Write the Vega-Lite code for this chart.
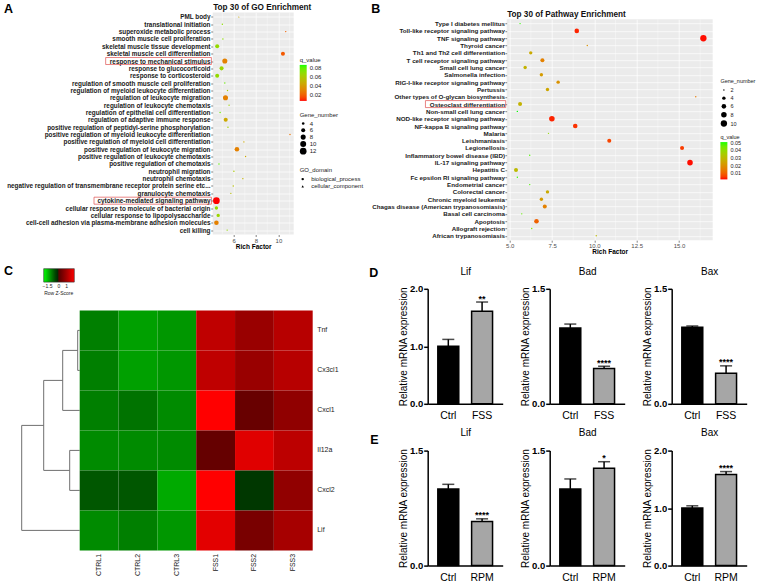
{
  "$schema": "https://vega.github.io/schema/vega-lite/v6.json",
  "background": "white",
  "autosize": {"type": "pad"},
  "padding": {"left": 2.7, "top": 1.5, "right": 0, "bottom": 0},
  "config": {
    "font": "Liberation Sans",
    "view": {"stroke": null},
    "axis": {"labelFont": "Liberation Sans", "titleFont": "Liberation Sans"},
    "axisQuantitative": {"labelOverlap": false},
    "legend": {"labelFont": "Liberation Sans", "titleFont": "Liberation Sans", "labelColor": "#1A1A1A", "titleColor": "#1A1A1A"},
    "title": {"font": "Liberation Sans", "color": "black"}
  },
  "bounds": "full",
  "spacing": 5,
  "resolve": {"scale": {"color": "independent", "size": "independent", "shape": "independent", "fill": "independent"}, "legend": {"color": "independent", "size": "independent", "shape": "independent", "fill": "independent"}},
  "hconcat": [
    {
      "bounds": "full",
      "spacing": 14.9,
      "resolve": {"scale": {"color": "independent", "size": "independent", "shape": "independent", "fill": "independent"}, "legend": {"color": "independent", "size": "independent", "shape": "independent", "fill": "independent"}},
      "vconcat": [
        {
          "bounds": "flush",
          "spacing": 0,
          "resolve": {"scale": {"color": "independent", "size": "independent", "shape": "independent"}, "legend": {"color": "independent", "size": "independent", "shape": "independent"}},
          "hconcat": [
            {"width": 193, "height": 1, "data": {"values": []}, "mark": "point",
             "encoding": {"x": {"field": "v", "type": "quantitative", "scale": {"domain": [0, 1]},
               "axis": {"title": "A", "titleX": -16.3, "titleY": -5.125, "titleAngle": 0, "titleAlign": "left", "titleBaseline": "middle", "titleFontSize": 12.5, "titleFontWeight": "bold", "titleColor": "black", "labels": false, "ticks": false, "domain": false, "grid": false}}}},
            {
              "width": 81,
              "height": 222,
              "view": {"fill": "#EBEBEB", "stroke": null},
              "data": {"values": [
                {"term": "PML body", "rf": 6.47, "q": 0.045, "n": 3, "dom": "cellular_component"},
                {"term": "translational initiation", "rf": 5.0, "q": 0.07, "n": 3, "dom": "biological_process"},
                {"term": "superoxide metabolic process", "rf": 10.65, "q": 0.02, "n": 3, "dom": "biological_process"},
                {"term": "smooth muscle cell proliferation", "rf": 5.05, "q": 0.07, "n": 3, "dom": "biological_process"},
                {"term": "skeletal muscle tissue development", "rf": 4.54, "q": 0.068, "n": 6, "dom": "biological_process"},
                {"term": "skeletal muscle cell differentiation", "rf": 10.4, "q": 0.018, "n": 6, "dom": "biological_process"},
                {"term": "response to mechanical stimulus", "rf": 5.22, "q": 0.03, "n": 8, "dom": "biological_process"},
                {"term": "response to glucocorticoid", "rf": 4.93, "q": 0.065, "n": 6, "dom": "biological_process"},
                {"term": "response to corticosteroid", "rf": 4.54, "q": 0.068, "n": 6, "dom": "biological_process"},
                {"term": "regulation of smooth muscle cell proliferation", "rf": 5.22, "q": 0.078, "n": 3, "dom": "biological_process"},
                {"term": "regulation of myeloid leukocyte differentiation", "rf": 5.46, "q": 0.062, "n": 3, "dom": "biological_process"},
                {"term": "regulation of leukocyte migration", "rf": 5.28, "q": 0.03, "n": 8, "dom": "biological_process"},
                {"term": "regulation of leukocyte chemotaxis", "rf": 5.6, "q": 0.065, "n": 3, "dom": "biological_process"},
                {"term": "regulation of epithelial cell differentiation", "rf": 4.8, "q": 0.078, "n": 3, "dom": "biological_process"},
                {"term": "regulation of adaptive immune response", "rf": 5.3, "q": 0.045, "n": 6, "dom": "biological_process"},
                {"term": "positive regulation of peptidyl-serine phosphorylation", "rf": 5.5, "q": 0.065, "n": 3, "dom": "biological_process"},
                {"term": "positive regulation of myeloid leukocyte differentiation", "rf": 11.03, "q": 0.025, "n": 3, "dom": "biological_process"},
                {"term": "positive regulation of myeloid cell differentiation", "rf": 6.92, "q": 0.045, "n": 3, "dom": "biological_process"},
                {"term": "positive regulation of leukocyte migration", "rf": 6.3, "q": 0.03, "n": 7, "dom": "biological_process"},
                {"term": "positive regulation of leukocyte chemotaxis", "rf": 7.07, "q": 0.045, "n": 3, "dom": "biological_process"},
                {"term": "positive regulation of chemotaxis", "rf": 4.7, "q": 0.08, "n": 3, "dom": "biological_process"},
                {"term": "neutrophil migration", "rf": 6.03, "q": 0.06, "n": 3, "dom": "biological_process"},
                {"term": "neutrophil chemotaxis", "rf": 6.83, "q": 0.05, "n": 3, "dom": "biological_process"},
                {"term": "negative regulation of transmembrane receptor protein serine etc...", "rf": 5.97, "q": 0.055, "n": 3, "dom": "biological_process"},
                {"term": "granulocyte chemotaxis", "rf": 5.76, "q": 0.055, "n": 3, "dom": "biological_process"},
                {"term": "cytokine-mediated signaling pathway", "rf": 4.47, "q": 0.0067, "n": 12, "dom": "biological_process"},
                {"term": "cellular response to molecule of bacterial origin", "rf": 4.47, "q": 0.068, "n": 5, "dom": "biological_process"},
                {"term": "cellular response to lipopolysaccharide", "rf": 4.63, "q": 0.066, "n": 5, "dom": "biological_process"},
                {"term": "cell-cell adhesion via plasma-membrane adhesion molecules", "rf": 4.47, "q": 0.03, "n": 7, "dom": "biological_process"},
                {"term": "cell killing", "rf": 5.43, "q": 0.068, "n": 3, "dom": "biological_process"}
              ]},
              "layer": [
                {"data": {"values": [{}]}, "mark": {"type": "rule", "color": "white", "strokeWidth": 0.35}, "encoding": {"x": {"datum": 5, "type": "quantitative"}}},
                {"data": {"values": [{}]}, "mark": {"type": "rule", "color": "white", "strokeWidth": 0.35}, "encoding": {"x": {"datum": 7, "type": "quantitative"}}},
                {"data": {"values": [{}]}, "mark": {"type": "rule", "color": "white", "strokeWidth": 0.35}, "encoding": {"x": {"datum": 9, "type": "quantitative"}}},
                {"data": {"values": [{}]}, "mark": {"type": "rule", "color": "white", "strokeWidth": 0.35}, "encoding": {"x": {"datum": 11, "type": "quantitative"}}},
                {
                  "mark": {"type": "point", "filled": true, "opacity": 1, "strokeWidth": 0},
                  "encoding": {
                    "y": {"field": "term", "type": "nominal", "sort": null, "title": "Top 30 of GO Enrichment", "scale": {"type": "point", "padding": 0.6},
                      "axis": {"title": "Top 30 of GO Enrichment", "titleX": 0, "titleY": -5.1, "titleAngle": 0, "titleAlign": "left", "titleBaseline": "middle", "titleFontSize": 8.2, "titleFontWeight": "bold", "titleColor": "#111111",
                        "labelFontSize": 6.4, "labelFontWeight": "bold", "labelColor": "#1A1A1A", "labelLimit": 400, "tickSize": 2, "tickColor": "#333333", "tickWidth": 0.6, "labelPadding": 0.7, "domain": false, "grid": true, "gridColor": "white", "gridWidth": 0.7}},
                    "x": {"field": "rf", "type": "quantitative", "title": "Rich Factor", "scale": {"domain": [4.14, 11.36], "nice": false, "zero": false},
                      "axis": {"title": "Rich Factor", "values": [6, 8, 10], "format": "d", "labelFontSize": 6, "labelColor": "#4D4D4D", "labelFlush": false, "tickSize": 2, "tickColor": "#333333", "tickWidth": 0.6, "labelPadding": 0.5, "domain": false, "grid": true, "gridColor": "white", "gridWidth": 0.7, "titleFontSize": 6.5, "titleFontWeight": "bold", "titleColor": "black", "titlePadding": 0}},
                    "color": {"field": "q", "type": "quantitative", "scale": {"domain": [0.0067, 0.0867], "range": ["#FF0000", "#00FF00"], "interpolate": "lab"},
                      "legend": {"title": "q_value", "orient": "none", "legendX": 87, "legendY": 44.4, "direction": "vertical", "gradientLength": 36, "gradientThickness": 7, "values": [0.02, 0.04, 0.06, 0.08], "format": ".2f", "titleFontSize": 6, "titleFontWeight": "normal", "titlePadding": 2, "labelFontSize": 6, "labelOffset": 3, "gradientStrokeWidth": 0}},
                    "size": {"field": "n", "type": "quantitative", "scale": {"domain": [3, 12], "range": [2, 45], "zero": false},
                      "legend": {"title": "Gene_number", "orient": "none", "legendX": 87, "legendY": 99.4, "values": [4, 6, 8, 10, 12], "symbolType": "circle", "symbolFillColor": "black", "symbolStrokeWidth": 0, "symbolOpacity": 1, "titleFontSize": 6, "titleFontWeight": "normal", "titlePadding": 2.6, "labelFontSize": 6, "labelOffset": 3, "rowPadding": 0.8}},
                    "shape": {"field": "dom", "type": "nominal", "scale": {"domain": ["biological_process", "cellular_component"], "range": ["circle", "triangle-up"]},
                      "legend": {"title": "GO_domain", "orient": "none", "legendX": 87, "legendY": 154.4, "symbolFillColor": "black", "symbolStrokeWidth": 0, "symbolSize": 6, "titleFontSize": 6, "titleFontWeight": "normal", "titlePadding": 3.2, "labelFontSize": 6, "labelOffset": 5.5, "rowPadding": 1.3}}
                  }
                },
                {
                  "mark": {"type": "bar", "orient": "horizontal", "size": 7, "fillOpacity": 0, "stroke": "#E0504F", "strokeWidth": 0.7},
                  "encoding": {
                    "y": {"field": "term", "type": "nominal", "sort": null, "title": "Top 30 of GO Enrichment", "scale": {"type": "point", "padding": 0.6}},
                    "x": {"datum": -5.4, "type": "quantitative", "title": "Rich Factor"},
                    "x2": {"datum": 4.024},
                    "strokeOpacity": {"condition": {"test": "datum.term === 'response to mechanical stimulus'", "value": 1}, "value": 0}
                  }
                },
                {
                  "mark": {"type": "bar", "orient": "horizontal", "size": 7, "fillOpacity": 0, "stroke": "#E0504F", "strokeWidth": 0.7},
                  "encoding": {
                    "y": {"field": "term", "type": "nominal", "sort": null, "title": "Top 30 of GO Enrichment", "scale": {"type": "point", "padding": 0.6}},
                    "x": {"datum": -6.44, "type": "quantitative", "title": "Rich Factor"},
                    "x2": {"datum": 4.024},
                    "strokeOpacity": {"condition": {"test": "datum.term === 'cytokine-mediated signaling pathway'", "value": 1}, "value": 0}
                  }
                }
              ]
            }
          ]
        },
        {
          "bounds": "flush",
          "spacing": 0,
          "resolve": {"scale": {"color": "independent"}, "legend": {"color": "independent"}},
          "hconcat": [
            {
              "width": 60,
              "height": 240,
              "data": {"values": [
                {"ha": 0, "hb": 2, "ra": 0.5, "rb": 0.5},
                {"ha": 0, "hb": 2, "ra": 1.5, "rb": 1.5},
                {"ha": 2, "hb": 2, "ra": 0.5, "rb": 1.5},
                {"ha": 2, "hb": 17, "ra": 1.0, "rb": 1.0},
                {"ha": 0, "hb": 17, "ra": 2.5, "rb": 2.5},
                {"ha": 17, "hb": 17, "ra": 1.0, "rb": 2.5},
                {"ha": 0, "hb": 10, "ra": 3.5, "rb": 3.5},
                {"ha": 0, "hb": 10, "ra": 4.5, "rb": 4.5},
                {"ha": 10, "hb": 10, "ra": 3.5, "rb": 4.5},
                {"ha": 17, "hb": 36, "ra": 1.75, "rb": 1.75},
                {"ha": 10, "hb": 36, "ra": 4.0, "rb": 4.0},
                {"ha": 36, "hb": 36, "ra": 1.75, "rb": 4.0},
                {"ha": 36, "hb": 58, "ra": 2.875, "rb": 2.875},
                {"ha": 0, "hb": 58, "ra": 5.5, "rb": 5.5},
                {"ha": 58, "hb": 58, "ra": 2.875, "rb": 5.5}
              ]},
              "mark": {"type": "rule", "color": "#6E6E6E", "strokeWidth": 1},
              "encoding": {
                "x": {"field": "ha", "type": "quantitative", "scale": {"domain": [0, 60], "reverse": true, "nice": false, "zero": false},
                  "axis": {"title": "C", "labels": false, "ticks": false, "domain": false, "grid": false, "titleX": -16.3, "titleY": -279.5, "titleAngle": 0, "titleAlign": "left", "titleBaseline": "middle", "titleFontSize": 12.5, "titleFontWeight": "bold", "titleColor": "black"}},
                "x2": {"field": "hb"},
                "y": {"field": "ra", "type": "quantitative", "scale": {"domain": [0, 6], "reverse": true, "nice": false, "zero": false}, "axis": null},
                "y2": {"field": "rb"}
              }
            },
            {
              "width": 233,
              "height": 240,
              "data": {"values": [
                {"gene": "Tnf", "sample": "CTRL1", "z": -0.98}, {"gene": "Tnf", "sample": "CTRL2", "z": -1.25}, {"gene": "Tnf", "sample": "CTRL3", "z": -1.18},
                {"gene": "Tnf", "sample": "FSS1", "z": 1.29}, {"gene": "Tnf", "sample": "FSS2", "z": 0.84}, {"gene": "Tnf", "sample": "FSS3", "z": 1.2},
                {"gene": "Cx3cl1", "sample": "CTRL1", "z": -0.98}, {"gene": "Cx3cl1", "sample": "CTRL2", "z": -1.25}, {"gene": "Cx3cl1", "sample": "CTRL3", "z": -1.18},
                {"gene": "Cx3cl1", "sample": "FSS1", "z": 1.29}, {"gene": "Cx3cl1", "sample": "FSS2", "z": 0.84}, {"gene": "Cx3cl1", "sample": "FSS3", "z": 1.2},
                {"gene": "Cxcl1", "sample": "CTRL1", "z": -0.98}, {"gene": "Cxcl1", "sample": "CTRL2", "z": -0.88}, {"gene": "Cxcl1", "sample": "CTRL3", "z": -1.08},
                {"gene": "Cxcl1", "sample": "FSS1", "z": 2.0}, {"gene": "Cxcl1", "sample": "FSS2", "z": 0.24}, {"gene": "Cxcl1", "sample": "FSS3", "z": 0.74},
                {"gene": "Il12a", "sample": "CTRL1", "z": -1.08}, {"gene": "Il12a", "sample": "CTRL2", "z": -1.08}, {"gene": "Il12a", "sample": "CTRL3", "z": -1.08},
                {"gene": "Il12a", "sample": "FSS1", "z": 0.19}, {"gene": "Il12a", "sample": "FSS2", "z": 1.66}, {"gene": "Il12a", "sample": "FSS3", "z": 1.25},
                {"gene": "Cxcl2", "sample": "CTRL1", "z": -0.64}, {"gene": "Cxcl2", "sample": "CTRL2", "z": -0.64}, {"gene": "Cxcl2", "sample": "CTRL3", "z": -1.33},
                {"gene": "Cxcl2", "sample": "FSS1", "z": 2.0}, {"gene": "Cxcl2", "sample": "FSS2", "z": -0.33}, {"gene": "Cxcl2", "sample": "FSS3", "z": 0.75},
                {"gene": "Lif", "sample": "CTRL1", "z": -1.08}, {"gene": "Lif", "sample": "CTRL2", "z": -0.98}, {"gene": "Lif", "sample": "CTRL3", "z": -1.18},
                {"gene": "Lif", "sample": "FSS1", "z": 1.69}, {"gene": "Lif", "sample": "FSS2", "z": 0.45}, {"gene": "Lif", "sample": "FSS3", "z": 1.0}
              ]},
              "mark": {"type": "rect"},
              "encoding": {
                "x": {"field": "sample", "type": "nominal", "sort": ["CTRL1", "CTRL2", "CTRL3", "FSS1", "FSS2", "FSS3"], "scale": {"paddingInner": 0, "paddingOuter": 0},
                  "axis": {"title": null, "labelAngle": 270, "labelFontSize": 7, "labelColor": "#222222", "ticks": false, "domain": false, "grid": false, "labelPadding": 3}},
                "y": {"field": "gene", "type": "nominal", "sort": ["Tnf", "Cx3cl1", "Cxcl1", "Il12a", "Cxcl2", "Lif"], "scale": {"paddingInner": 0, "paddingOuter": 0},
                  "axis": {"orient": "right", "title": null, "labelFontSize": 7, "labelColor": "#222222", "ticks": false, "domain": false, "grid": false, "labelPadding": 4}},
                "color": {"field": "z", "type": "quantitative", "scale": {"domain": [-2, 0, 2], "range": ["#00FF00", "#000000", "#FF0000"]},
                  "legend": {"title": "Row Z-Score", "orient": "none", "legendX": -36, "legendY": -41.7, "direction": "horizontal", "gradientLength": 30.6, "gradientThickness": 13.4, "values": [-1.5, 0, 1], "format": ".1~f", "labelFontSize": 5, "titleFontSize": 5, "titleFontWeight": "normal", "titleOrient": "bottom", "titleAnchor": "middle", "labelOffset": 2, "titlePadding": 2, "gradientStrokeColor": "#333333", "gradientStrokeWidth": 0.6}}
              }
            }
          ]
        }
      ]
    },
    {
      "bounds": "full",
      "spacing": 10.3,
      "resolve": {"scale": {"color": "independent", "size": "independent", "fill": "independent"}, "legend": {"color": "independent", "size": "independent", "fill": "independent"}},
      "vconcat": [
        {
          "bounds": "flush",
          "spacing": 5.7,
          "resolve": {"scale": {"color": "independent", "size": "independent"}, "legend": {"color": "independent", "size": "independent"}},
          "vconcat": [
            {"width": 1, "height": 1, "data": {"values": []}, "mark": "point",
             "encoding": {"x": {"field": "v", "type": "quantitative", "scale": {"domain": [0, 1]},
               "axis": {"title": "B", "titleX": 2, "titleY": -5.125, "titleAngle": 0, "titleAlign": "left", "titleBaseline": "middle", "titleFontSize": 12.5, "titleFontWeight": "bold", "titleColor": "black", "labels": false, "ticks": false, "domain": false, "grid": false}}}},
            {
              "bounds": "flush",
              "spacing": 0,
              "resolve": {"scale": {"color": "independent", "size": "independent"}, "legend": {"color": "independent", "size": "independent"}},
              "hconcat": [
                {"width": 138, "height": 1, "data": {"values": []}, "mark": "point"},
                {
                  "width": 206,
                  "height": 221,
                  "view": {"fill": "#EBEBEB", "stroke": null},
                  "data": {"values": [
                    {"term": "Type I diabetes mellitus", "rf": 5.61, "q": 0.05, "n": 2},
                    {"term": "Toll-like receptor signaling pathway", "rf": 8.96, "q": 0.003, "n": 6},
                    {"term": "TNF signaling pathway", "rf": 16.44, "q": 0.002, "n": 10},
                    {"term": "Thyroid cancer", "rf": 9.58, "q": 0.02, "n": 2},
                    {"term": "Th1 and Th2 cell differentiation", "rf": 6.24, "q": 0.026, "n": 4},
                    {"term": "T cell receptor signaling pathway", "rf": 6.93, "q": 0.016, "n": 5},
                    {"term": "Small cell lung cancer", "rf": 5.91, "q": 0.028, "n": 4},
                    {"term": "Salmonella infection", "rf": 6.87, "q": 0.022, "n": 4},
                    {"term": "RIG-I-like receptor signaling pathway", "rf": 7.86, "q": 0.02, "n": 4},
                    {"term": "Pertussis", "rf": 7.23, "q": 0.025, "n": 4},
                    {"term": "Other types of O-glycan biosynthesis", "rf": 15.99, "q": 0.015, "n": 2},
                    {"term": "Osteoclast differentiation", "rf": 5.61, "q": 0.028, "n": 5},
                    {"term": "Non-small cell lung cancer", "rf": 5.45, "q": 0.051, "n": 2},
                    {"term": "NOD-like receptor signaling pathway", "rf": 7.49, "q": 0.003, "n": 8},
                    {"term": "NF-kappa B signaling pathway", "rf": 8.87, "q": 0.004, "n": 6},
                    {"term": "Malaria", "rf": 7.29, "q": 0.04, "n": 2},
                    {"term": "Leishmaniasis", "rf": 10.88, "q": 0.006, "n": 5},
                    {"term": "Legionellosis", "rf": 15.18, "q": 0.005, "n": 5},
                    {"term": "Inflammatory bowel disease (IBD)", "rf": 6.18, "q": 0.048, "n": 2},
                    {"term": "IL-17 signaling pathway", "rf": 15.65, "q": 0.002, "n": 8},
                    {"term": "Hepatitis C", "rf": 5.37, "q": 0.03, "n": 5},
                    {"term": "Fc epsilon RI signaling pathway", "rf": 5.45, "q": 0.05, "n": 2},
                    {"term": "Endometrial cancer", "rf": 6.18, "q": 0.048, "n": 2},
                    {"term": "Colorectal cancer", "rf": 7.23, "q": 0.026, "n": 4},
                    {"term": "Chronic myeloid leukemia", "rf": 6.87, "q": 0.022, "n": 4},
                    {"term": "Chagas disease (American trypanosomiasis)", "rf": 7.07, "q": 0.016, "n": 5},
                    {"term": "Basal cell carcinoma", "rf": 5.71, "q": 0.046, "n": 2},
                    {"term": "Apoptosis", "rf": 6.58, "q": 0.01, "n": 6},
                    {"term": "Allograft rejection", "rf": 6.3, "q": 0.043, "n": 2},
                    {"term": "African trypanosomiasis", "rf": 10.11, "q": 0.03, "n": 2}
                  ]},
                  "layer": [
                    {"data": {"values": [{}]}, "mark": {"type": "rule", "color": "white", "strokeWidth": 0.35}, "encoding": {"x": {"datum": 6.25, "type": "quantitative"}}},
                    {"data": {"values": [{}]}, "mark": {"type": "rule", "color": "white", "strokeWidth": 0.35}, "encoding": {"x": {"datum": 8.75, "type": "quantitative"}}},
                    {"data": {"values": [{}]}, "mark": {"type": "rule", "color": "white", "strokeWidth": 0.35}, "encoding": {"x": {"datum": 11.25, "type": "quantitative"}}},
                    {"data": {"values": [{}]}, "mark": {"type": "rule", "color": "white", "strokeWidth": 0.35}, "encoding": {"x": {"datum": 13.75, "type": "quantitative"}}},
                    {"data": {"values": [{}]}, "mark": {"type": "rule", "color": "white", "strokeWidth": 0.35}, "encoding": {"x": {"datum": 16.25, "type": "quantitative"}}},
                    {
                      "mark": {"type": "point", "filled": true, "opacity": 1, "strokeWidth": 0},
                      "encoding": {
                        "y": {"field": "term", "type": "nominal", "sort": null, "title": "Top 30 of Pathway Enrichment", "scale": {"type": "point", "padding": 0.6},
                          "axis": {"title": "Top 30 of Pathway Enrichment", "titleX": 0, "titleY": -5.1, "titleAngle": 0, "titleAlign": "left", "titleBaseline": "middle", "titleFontSize": 8.2, "titleFontWeight": "bold", "titleColor": "#111111",
                            "labelFontSize": 6.25, "labelFontWeight": "bold", "labelColor": "#1A1A1A", "labelLimit": 400, "tickSize": 1.8, "tickColor": "#333333", "tickWidth": 0.6, "labelPadding": 0.4, "domain": false, "grid": true, "gridColor": "white", "gridWidth": 0.7}},
                        "x": {"field": "rf", "type": "quantitative", "title": "Rich Factor", "scale": {"domain": [4.82, 16.99], "nice": false, "zero": false},
                          "axis": {"title": "Rich Factor", "values": [5, 7.5, 10, 12.5, 15], "format": ".1f", "labelFontSize": 6, "labelColor": "#4D4D4D", "labelFlush": false, "tickSize": 2, "tickColor": "#333333", "tickWidth": 0.6, "labelPadding": 0.5, "domain": false, "grid": true, "gridColor": "white", "gridWidth": 0.7, "titleFontSize": 6.5, "titleFontWeight": "bold", "titleColor": "black", "titlePadding": 0}},
                        "color": {"field": "q", "type": "quantitative", "scale": {"domain": [0.0017, 0.051], "range": ["#FF0000", "#00FF00"], "interpolate": "lab"},
                          "legend": {"title": "q_value", "orient": "none", "legendX": 213.7, "legendY": 115.7, "direction": "vertical", "gradientLength": 37.3, "gradientThickness": 7, "values": [0.01, 0.02, 0.03, 0.04, 0.05], "format": ".2f", "titleFontSize": 5.5, "titleFontWeight": "normal", "titlePadding": 1.7, "labelFontSize": 5.5, "labelOffset": 3, "gradientStrokeWidth": 0}},
                        "size": {"field": "n", "type": "quantitative", "scale": {"domain": [2, 10], "range": [2, 40], "zero": false},
                          "legend": {"title": "Gene_number", "orient": "none", "legendX": 213.7, "legendY": 59.7, "values": [2, 4, 6, 8, 10], "symbolType": "circle", "symbolFillColor": "black", "symbolStrokeWidth": 0, "symbolOpacity": 1, "titleFontSize": 5.5, "titleFontWeight": "normal", "titlePadding": 2.8, "labelFontSize": 5.5, "labelOffset": 3, "rowPadding": 1.2}}
                      }
                    },
                    {
                      "mark": {"type": "bar", "orient": "horizontal", "size": 7, "fillOpacity": 0, "stroke": "#E0504F", "strokeWidth": 0.7},
                      "encoding": {
                        "y": {"field": "term", "type": "nominal", "sort": null, "title": "Top 30 of Pathway Enrichment", "scale": {"type": "point", "padding": 0.6}},
                        "x": {"datum": 0.02, "type": "quantitative", "title": "Rich Factor"},
                        "x2": {"datum": 4.76},
                        "strokeOpacity": {"condition": {"test": "datum.term === 'Osteoclast differentiation'", "value": 1}, "value": 0}
                      }
                    }
                  ]
                }
              ]
            }
          ]
        },
        {
          "bounds": "full",
          "spacing": 5.8,
          "resolve": {"scale": {"fill": "independent"}, "legend": {"fill": "independent"}},
          "vconcat": [
            {
              "bounds": "flush",
              "spacing": 47,
              "resolve": {"scale": {"fill": "independent"}, "legend": {"fill": "independent"}},
              "hconcat": [
                {"width": 11.5, "height": 1, "data": {"values": []}, "mark": "point",
                 "encoding": {"x": {"field": "v", "type": "quantitative", "scale": {"domain": [0, 1]},
                   "axis": {"title": "D", "titleX": 0, "titleY": -17.3, "titleAngle": 0, "titleAlign": "left", "titleBaseline": "middle", "titleFontSize": 12.5, "titleFontWeight": "bold", "titleColor": "black", "labels": false, "ticks": false, "domain": false, "grid": false}}}},
                {
                  "width": 75, "height": 115,
                  "data": {"values": [{"group": "Ctrl", "mean": 1.0, "hi": 1.12, "sig": ""}, {"group": "FSS", "mean": 1.61, "hi": 1.77, "sig": "**"}]},
                  "encoding": {"x": {"field": "group", "type": "nominal", "sort": null, "title": "Lif", "scale": {"paddingInner": 0.38, "paddingOuter": 0.3},
                    "axis": {"title": "Lif", "titleX": 37.5, "titleY": -132.4, "titleAngle": 0, "titleAlign": "center", "titleBaseline": "middle", "titleFontSize": 10, "titleFontWeight": "normal", "titleColor": "black", "labelAngle": 0, "labelFontSize": 10.5, "labelColor": "black", "ticks": false, "tickSize": 0, "domainColor": "black", "domainWidth": 1.5, "labelPadding": 7}}},
                  "layer": [
                    {"mark": {"type": "bar", "stroke": "black", "strokeWidth": 1.5},
                     "encoding": {"y": {"field": "mean", "type": "quantitative", "title": "Relative mRNA expression", "scale": {"domain": [0, 2], "nice": false},
                       "axis": {"title": "Relative mRNA expression", "values": [0, 0.5, 1, 1.5, 2], "format": ".1f", "labelOverlap": false, "labelFlush": false, "grid": false, "domainColor": "black", "domainWidth": 1.5, "tickColor": "black", "tickWidth": 1.5, "tickSize": 4, "labelFontSize": 9.5, "labelFontWeight": "bold", "labelColor": "black", "labelPadding": 1, "titleFontSize": 10, "titleFontWeight": "normal", "titleColor": "black", "titlePadding": 1}},
                       "fill": {"field": "group", "type": "nominal", "sort": null, "scale": {"range": ["#000000", "#A6A6A6"]}, "legend": null}}},
                    {"mark": {"type": "rule", "color": "black", "strokeWidth": 1.5}, "encoding": {"y": {"field": "mean", "type": "quantitative", "title": "Relative mRNA expression"}, "y2": {"field": "hi"}}},
                    {"mark": {"type": "tick", "color": "black", "thickness": 1.5, "size": 12}, "encoding": {"y": {"field": "hi", "type": "quantitative", "title": "Relative mRNA expression"}}},
                    {"mark": {"type": "text", "baseline": "alphabetic", "dy": -0.5, "fontSize": 9, "fontWeight": "bold", "color": "black"}, "encoding": {"y": {"field": "hi", "type": "quantitative", "title": "Relative mRNA expression"}, "text": {"field": "sig"}}}
                  ]
                },
                {
                  "width": 75, "height": 115,
                  "data": {"values": [{"group": "Ctrl", "mean": 0.99, "hi": 1.04, "sig": ""}, {"group": "FSS", "mean": 0.46, "hi": 0.49, "sig": "****"}]},
                  "encoding": {"x": {"field": "group", "type": "nominal", "sort": null, "title": "Bad", "scale": {"paddingInner": 0.38, "paddingOuter": 0.3},
                    "axis": {"title": "Bad", "titleX": 37.5, "titleY": -132.4, "titleAngle": 0, "titleAlign": "center", "titleBaseline": "middle", "titleFontSize": 10, "titleFontWeight": "normal", "titleColor": "black", "labelAngle": 0, "labelFontSize": 10.5, "labelColor": "black", "ticks": false, "tickSize": 0, "domainColor": "black", "domainWidth": 1.5, "labelPadding": 7}}},
                  "layer": [
                    {"mark": {"type": "bar", "stroke": "black", "strokeWidth": 1.5},
                     "encoding": {"y": {"field": "mean", "type": "quantitative", "title": "Relative mRNA expression", "scale": {"domain": [0, 1.5], "nice": false},
                       "axis": {"title": "Relative mRNA expression", "values": [0, 0.5, 1, 1.5], "format": ".1f", "labelOverlap": false, "labelFlush": false, "grid": false, "domainColor": "black", "domainWidth": 1.5, "tickColor": "black", "tickWidth": 1.5, "tickSize": 4, "labelFontSize": 9.5, "labelFontWeight": "bold", "labelColor": "black", "labelPadding": 1, "titleFontSize": 10, "titleFontWeight": "normal", "titleColor": "black", "titlePadding": 1}},
                       "fill": {"field": "group", "type": "nominal", "sort": null, "scale": {"range": ["#000000", "#A6A6A6"]}, "legend": null}}},
                    {"mark": {"type": "rule", "color": "black", "strokeWidth": 1.5}, "encoding": {"y": {"field": "mean", "type": "quantitative", "title": "Relative mRNA expression"}, "y2": {"field": "hi"}}},
                    {"mark": {"type": "tick", "color": "black", "thickness": 1.5, "size": 12}, "encoding": {"y": {"field": "hi", "type": "quantitative", "title": "Relative mRNA expression"}}},
                    {"mark": {"type": "text", "baseline": "alphabetic", "dy": -0.5, "fontSize": 9, "fontWeight": "bold", "color": "black"}, "encoding": {"y": {"field": "hi", "type": "quantitative", "title": "Relative mRNA expression"}, "text": {"field": "sig"}}}
                  ]
                },
                {
                  "width": 75, "height": 115,
                  "data": {"values": [{"group": "Ctrl", "mean": 1.0, "hi": 1.015, "sig": ""}, {"group": "FSS", "mean": 0.4, "hi": 0.495, "sig": "****"}]},
                  "encoding": {"x": {"field": "group", "type": "nominal", "sort": null, "title": "Bax", "scale": {"paddingInner": 0.38, "paddingOuter": 0.3},
                    "axis": {"title": "Bax", "titleX": 37.5, "titleY": -132.4, "titleAngle": 0, "titleAlign": "center", "titleBaseline": "middle", "titleFontSize": 10, "titleFontWeight": "normal", "titleColor": "black", "labelAngle": 0, "labelFontSize": 10.5, "labelColor": "black", "ticks": false, "tickSize": 0, "domainColor": "black", "domainWidth": 1.5, "labelPadding": 7}}},
                  "layer": [
                    {"mark": {"type": "bar", "stroke": "black", "strokeWidth": 1.5},
                     "encoding": {"y": {"field": "mean", "type": "quantitative", "title": "Relative mRNA expression", "scale": {"domain": [0, 1.5], "nice": false},
                       "axis": {"title": "Relative mRNA expression", "values": [0, 0.5, 1, 1.5], "format": ".1f", "labelOverlap": false, "labelFlush": false, "grid": false, "domainColor": "black", "domainWidth": 1.5, "tickColor": "black", "tickWidth": 1.5, "tickSize": 4, "labelFontSize": 9.5, "labelFontWeight": "bold", "labelColor": "black", "labelPadding": 1, "titleFontSize": 10, "titleFontWeight": "normal", "titleColor": "black", "titlePadding": 1}},
                       "fill": {"field": "group", "type": "nominal", "sort": null, "scale": {"range": ["#000000", "#A6A6A6"]}, "legend": null}}},
                    {"mark": {"type": "rule", "color": "black", "strokeWidth": 1.5}, "encoding": {"y": {"field": "mean", "type": "quantitative", "title": "Relative mRNA expression"}, "y2": {"field": "hi"}}},
                    {"mark": {"type": "tick", "color": "black", "thickness": 1.5, "size": 12}, "encoding": {"y": {"field": "hi", "type": "quantitative", "title": "Relative mRNA expression"}}},
                    {"mark": {"type": "text", "baseline": "alphabetic", "dy": -0.5, "fontSize": 9, "fontWeight": "bold", "color": "black"}, "encoding": {"y": {"field": "hi", "type": "quantitative", "title": "Relative mRNA expression"}, "text": {"field": "sig"}}}
                  ]
                }
              ]
            },
            {
              "bounds": "flush",
              "spacing": 47,
              "resolve": {"scale": {"fill": "independent"}, "legend": {"fill": "independent"}},
              "hconcat": [
                {"width": 11.5, "height": 1, "data": {"values": []}, "mark": "point",
                 "encoding": {"x": {"field": "v", "type": "quantitative", "scale": {"domain": [0, 1]},
                   "axis": {"title": "E", "titleX": 1, "titleY": -12, "titleAngle": 0, "titleAlign": "left", "titleBaseline": "middle", "titleFontSize": 12.5, "titleFontWeight": "bold", "titleColor": "black", "labels": false, "ticks": false, "domain": false, "grid": false}}}},
                {
                  "width": 75, "height": 115,
                  "data": {"values": [{"group": "Ctrl", "mean": 1.0, "hi": 1.06, "sig": ""}, {"group": "RPM", "mean": 0.575, "hi": 0.61, "sig": "****"}]},
                  "encoding": {"x": {"field": "group", "type": "nominal", "sort": null, "title": "Lif", "scale": {"paddingInner": 0.38, "paddingOuter": 0.3},
                    "axis": {"title": "Lif", "titleX": 37.5, "titleY": -132.9, "titleAngle": 0, "titleAlign": "center", "titleBaseline": "middle", "titleFontSize": 10, "titleFontWeight": "normal", "titleColor": "black", "labelAngle": 0, "labelFontSize": 10.5, "labelColor": "black", "ticks": false, "tickSize": 0, "domainColor": "black", "domainWidth": 1.5, "labelPadding": 7}}},
                  "layer": [
                    {"mark": {"type": "bar", "stroke": "black", "strokeWidth": 1.5},
                     "encoding": {"y": {"field": "mean", "type": "quantitative", "title": "Relative mRNA expression", "scale": {"domain": [0, 1.5], "nice": false},
                       "axis": {"title": "Relative mRNA expression", "values": [0, 0.5, 1, 1.5], "format": ".1f", "labelOverlap": false, "labelFlush": false, "grid": false, "domainColor": "black", "domainWidth": 1.5, "tickColor": "black", "tickWidth": 1.5, "tickSize": 4, "labelFontSize": 9.5, "labelFontWeight": "bold", "labelColor": "black", "labelPadding": 1, "titleFontSize": 10, "titleFontWeight": "normal", "titleColor": "black", "titlePadding": 1}},
                       "fill": {"field": "group", "type": "nominal", "sort": null, "scale": {"range": ["#000000", "#A6A6A6"]}, "legend": null}}},
                    {"mark": {"type": "rule", "color": "black", "strokeWidth": 1.5}, "encoding": {"y": {"field": "mean", "type": "quantitative", "title": "Relative mRNA expression"}, "y2": {"field": "hi"}}},
                    {"mark": {"type": "tick", "color": "black", "thickness": 1.5, "size": 12}, "encoding": {"y": {"field": "hi", "type": "quantitative", "title": "Relative mRNA expression"}}},
                    {"mark": {"type": "text", "baseline": "alphabetic", "dy": -0.5, "fontSize": 9, "fontWeight": "bold", "color": "black"}, "encoding": {"y": {"field": "hi", "type": "quantitative", "title": "Relative mRNA expression"}, "text": {"field": "sig"}}}
                  ]
                },
                {
                  "width": 75, "height": 115,
                  "data": {"values": [{"group": "Ctrl", "mean": 1.0, "hi": 1.13, "sig": ""}, {"group": "RPM", "mean": 1.27, "hi": 1.355, "sig": "*"}]},
                  "encoding": {"x": {"field": "group", "type": "nominal", "sort": null, "title": "Bad", "scale": {"paddingInner": 0.38, "paddingOuter": 0.3},
                    "axis": {"title": "Bad", "titleX": 37.5, "titleY": -132.9, "titleAngle": 0, "titleAlign": "center", "titleBaseline": "middle", "titleFontSize": 10, "titleFontWeight": "normal", "titleColor": "black", "labelAngle": 0, "labelFontSize": 10.5, "labelColor": "black", "ticks": false, "tickSize": 0, "domainColor": "black", "domainWidth": 1.5, "labelPadding": 7}}},
                  "layer": [
                    {"mark": {"type": "bar", "stroke": "black", "strokeWidth": 1.5},
                     "encoding": {"y": {"field": "mean", "type": "quantitative", "title": "Relative mRNA expression", "scale": {"domain": [0, 1.5], "nice": false},
                       "axis": {"title": "Relative mRNA expression", "values": [0, 0.5, 1, 1.5], "format": ".1f", "labelOverlap": false, "labelFlush": false, "grid": false, "domainColor": "black", "domainWidth": 1.5, "tickColor": "black", "tickWidth": 1.5, "tickSize": 4, "labelFontSize": 9.5, "labelFontWeight": "bold", "labelColor": "black", "labelPadding": 1, "titleFontSize": 10, "titleFontWeight": "normal", "titleColor": "black", "titlePadding": 1}},
                       "fill": {"field": "group", "type": "nominal", "sort": null, "scale": {"range": ["#000000", "#A6A6A6"]}, "legend": null}}},
                    {"mark": {"type": "rule", "color": "black", "strokeWidth": 1.5}, "encoding": {"y": {"field": "mean", "type": "quantitative", "title": "Relative mRNA expression"}, "y2": {"field": "hi"}}},
                    {"mark": {"type": "tick", "color": "black", "thickness": 1.5, "size": 12}, "encoding": {"y": {"field": "hi", "type": "quantitative", "title": "Relative mRNA expression"}}},
                    {"mark": {"type": "text", "baseline": "alphabetic", "dy": -0.5, "fontSize": 9, "fontWeight": "bold", "color": "black"}, "encoding": {"y": {"field": "hi", "type": "quantitative", "title": "Relative mRNA expression"}, "text": {"field": "sig"}}}
                  ]
                },
                {
                  "width": 75, "height": 115,
                  "data": {"values": [{"group": "Ctrl", "mean": 1.0, "hi": 1.04, "sig": ""}, {"group": "RPM", "mean": 1.585, "hi": 1.635, "sig": "****"}]},
                  "encoding": {"x": {"field": "group", "type": "nominal", "sort": null, "title": "Bax", "scale": {"paddingInner": 0.38, "paddingOuter": 0.3},
                    "axis": {"title": "Bax", "titleX": 37.5, "titleY": -132.9, "titleAngle": 0, "titleAlign": "center", "titleBaseline": "middle", "titleFontSize": 10, "titleFontWeight": "normal", "titleColor": "black", "labelAngle": 0, "labelFontSize": 10.5, "labelColor": "black", "ticks": false, "tickSize": 0, "domainColor": "black", "domainWidth": 1.5, "labelPadding": 7}}},
                  "layer": [
                    {"mark": {"type": "bar", "stroke": "black", "strokeWidth": 1.5},
                     "encoding": {"y": {"field": "mean", "type": "quantitative", "title": "Relative mRNA expression", "scale": {"domain": [0, 2], "nice": false},
                       "axis": {"title": "Relative mRNA expression", "values": [0, 0.5, 1, 1.5, 2], "format": ".1f", "labelOverlap": false, "labelFlush": false, "grid": false, "domainColor": "black", "domainWidth": 1.5, "tickColor": "black", "tickWidth": 1.5, "tickSize": 4, "labelFontSize": 9.5, "labelFontWeight": "bold", "labelColor": "black", "labelPadding": 1, "titleFontSize": 10, "titleFontWeight": "normal", "titleColor": "black", "titlePadding": 1}},
                       "fill": {"field": "group", "type": "nominal", "sort": null, "scale": {"range": ["#000000", "#A6A6A6"]}, "legend": null}}},
                    {"mark": {"type": "rule", "color": "black", "strokeWidth": 1.5}, "encoding": {"y": {"field": "mean", "type": "quantitative", "title": "Relative mRNA expression"}, "y2": {"field": "hi"}}},
                    {"mark": {"type": "tick", "color": "black", "thickness": 1.5, "size": 12}, "encoding": {"y": {"field": "hi", "type": "quantitative", "title": "Relative mRNA expression"}}},
                    {"mark": {"type": "text", "baseline": "alphabetic", "dy": -0.5, "fontSize": 9, "fontWeight": "bold", "color": "black"}, "encoding": {"y": {"field": "hi", "type": "quantitative", "title": "Relative mRNA expression"}, "text": {"field": "sig"}}}
                  ]
                }
              ]
            }
          ]
        }
      ]
    }
  ]
}
